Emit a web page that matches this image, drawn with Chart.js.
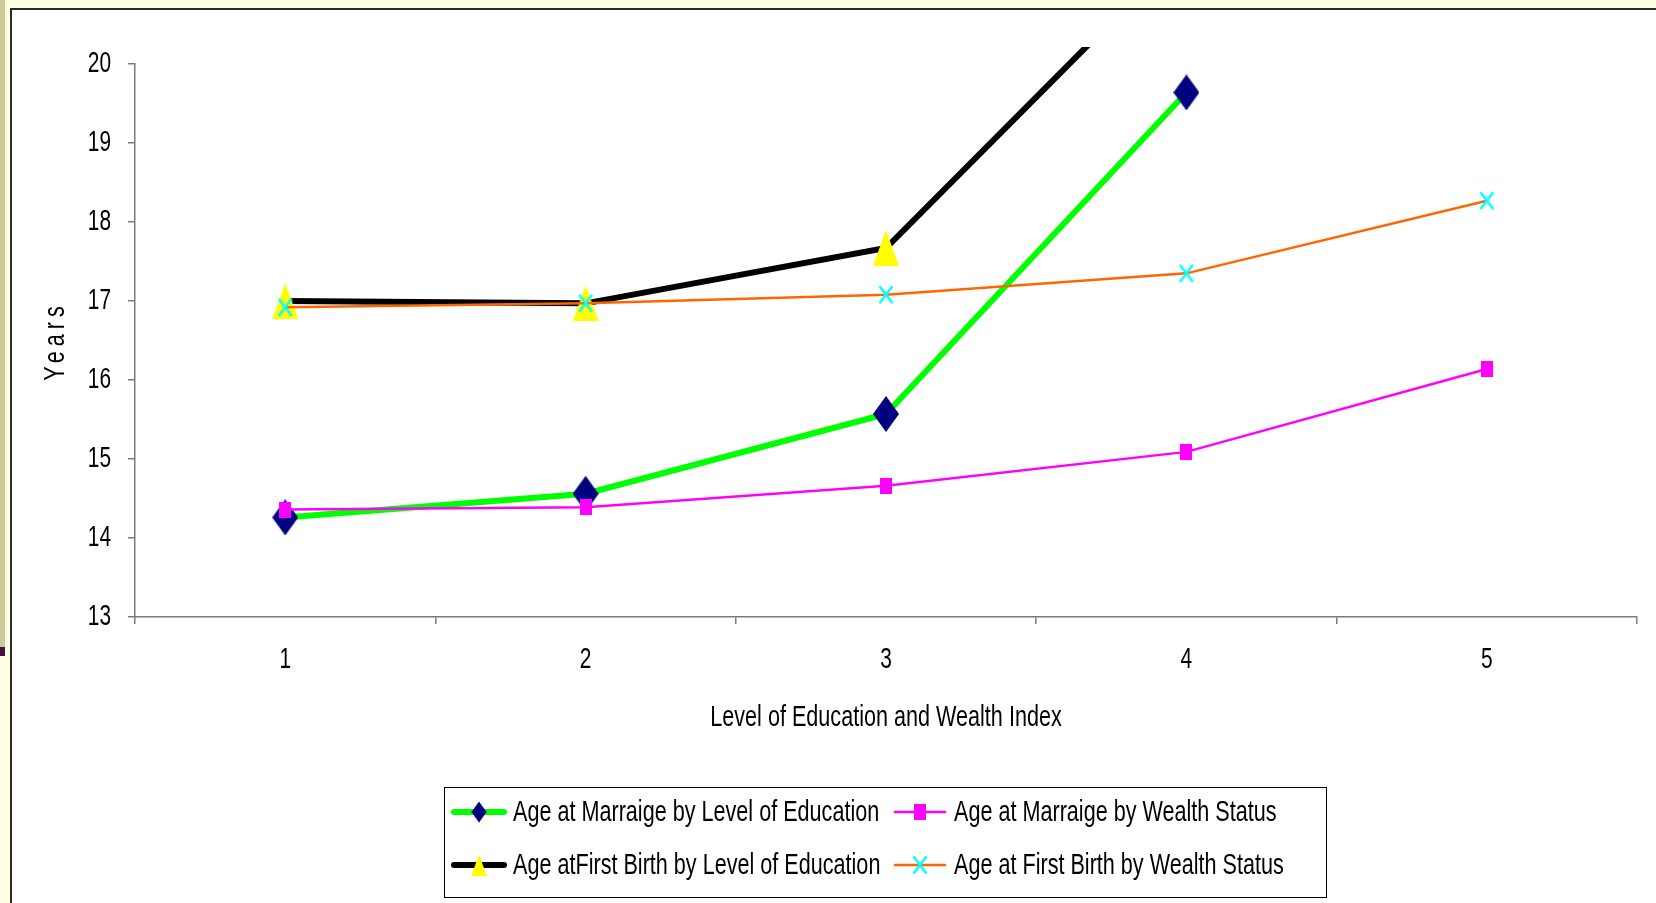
<!DOCTYPE html>
<html>
<head>
<meta charset="utf-8">
<title>Age at Marriage and First Birth</title>
<script src="https://cdn.jsdelivr.net/npm/chart.js@4.4.1/dist/chart.umd.min.js"></script>
<style>
  html, body { margin: 0; padding: 0; }
  body { width: 1656px; height: 903px; background: #FFFFE1; position: relative; overflow: hidden; }
  .strip { position: absolute; left: 0; top: 0; width: 5px; height: 647px; background: #CDCB9B; }
  .strip-dark { position: absolute; left: 0; top: 647px; width: 5px; height: 9px; background: #4A0D45; }
  .frame { position: absolute; left: 10px; top: 8px; width: 1700px; height: 1000px; background: #fff;
           border-left: 2px solid #2b2b2b; border-top: 2px solid #2b2b2b; }
  #chart { position: absolute; left: 0; top: 0; }
</style>
</head>
<body>
<div class="strip"></div>
<div class="strip-dark"></div>
<div class="frame"></div>
<canvas id="chart" width="1656" height="903"></canvas>
<script>
// data
const levels = ['1', '2', '3', '4', '5'];
const yRange = [13, 20];
const marriageByEducation = [14.26, 14.56, 15.57, 19.64, null];
const marriageByWealth = [14.36, 14.39, 14.66, 15.09, 16.14];
const firstBirthByEducation = [17.0, 16.97, 17.67, 21.49, null];
const firstBirthByWealth = [16.92, 16.97, 17.08, 17.35, 18.27];

const FONT = "'Liberation Sans', Arial, sans-serif";
const AXIS = '#7a7a7a';
const NARROW = 0.72; // the original text is a squeezed Arial Narrow

Chart.defaults.font.family = FONT;
Chart.defaults.color = '#000';

// squeeze all text drawn on this canvas horizontally
const canvas = document.getElementById('chart');
const ctx = canvas.getContext('2d');
const rawFill = ctx.fillText.bind(ctx);
const rawMeasure = ctx.measureText.bind(ctx);
ctx.fillText = (text, x, y) => {
  ctx.save();
  ctx.translate(x, y);
  ctx.scale(NARROW, 1);
  rawFill(text, 0, 0);
  ctx.restore();
};
ctx.measureText = text => {
  const m = rawMeasure(text);
  return {
    width: m.width * NARROW,
    actualBoundingBoxAscent: m.actualBoundingBoxAscent,
    actualBoundingBoxDescent: m.actualBoundingBoxDescent,
    actualBoundingBoxLeft: m.actualBoundingBoxLeft * NARROW,
    actualBoundingBoxRight: m.actualBoundingBoxRight * NARROW
  };
};

// excel-like marker shapes
function makeMarker(w, h, draw) {
  const c = document.createElement('canvas');
  c.width = w;
  c.height = h;
  draw(c.getContext('2d'), w, h);
  return c;
}
const diamond = makeMarker(26, 36, (g, w, h) => {
  g.fillStyle = '#000080';
  g.beginPath();
  g.moveTo(w / 2, 0); g.lineTo(w, h / 2); g.lineTo(w / 2, h); g.lineTo(0, h / 2);
  g.closePath();
  g.fill();
});
const triangle = makeMarker(26, 36, (g, w, h) => {
  g.fillStyle = '#FFFF00';
  g.beginPath();
  g.moveTo(w / 2, 0); g.lineTo(w, h); g.lineTo(0, h);
  g.closePath();
  g.fill();
});
const square = makeMarker(12, 16, (g, w, h) => {
  g.fillStyle = '#FF00FF';
  g.fillRect(0, 0, w, h);
});
const cross = makeMarker(16, 20, (g, w, h) => {
  g.strokeStyle = '#00FFFF';
  g.lineWidth = 2.5;
  g.beginPath();
  g.moveTo(1.5, 1.5); g.lineTo(w - 1.5, h - 1.5);
  g.moveTo(w - 1.5, 1.5); g.lineTo(1.5, h - 1.5);
  g.stroke();
});

// y title with spaced letters
const yTitlePlugin = {
  id: 'yTitle',
  afterDraw(chart) {
    const c = chart.ctx;
    c.save();
    c.translate(56, 343);
    c.rotate(-Math.PI / 2);
    c.font = '30px ' + FONT;
    c.letterSpacing = '7px';
    c.textAlign = 'center';
    c.textBaseline = 'middle';
    c.fillStyle = '#000';
    c.fillText(chart.options.scales.y.title.text, 2, 0);
    c.restore();
  }
};

// two column boxed legend
const boxLegend = {
  id: 'boxLegend',
  afterDraw(chart) {
    const c = chart.ctx;
    const cells = [[451, 812], [892, 812], [451, 865], [892, 865]];
    c.save();
    c.strokeStyle = '#000';
    c.lineWidth = 1;
    c.strokeRect(444.5, 787.5, 882, 110);
    c.font = '30px ' + FONT;
    c.textAlign = 'left';
    c.textBaseline = 'middle';
    chart.data.datasets.forEach((ds, i) => {
      const [x, y] = cells[i];
      c.strokeStyle = ds.borderColor;
      c.lineWidth = ds.borderWidth;
      c.lineCap = 'round';
      c.beginPath();
      c.moveTo(x + 3, y);
      c.lineTo(x + 53, y);
      c.stroke();
      const m = ds.pointStyle;
      const s = Math.min(1, 21 / m.height);
      c.drawImage(m, x + 28 - m.width * s / 2, y - m.height * s / 2, m.width * s, m.height * s);
      c.fillStyle = '#000';
      c.fillText(ds.label, x + 62, y + 1);
    });
    c.restore();
  }
};

new Chart(ctx, {
  type: 'line',
  data: {
    labels: levels,
    datasets: [
      { label: 'Age at Marraige by Level of Education', data: marriageByEducation,
        borderColor: '#00FF00', borderWidth: 6, pointStyle: diamond, pointRadius: 13, order: 4 },
      { label: 'Age at Marraige by Wealth Status', data: marriageByWealth,
        borderColor: '#FF00FF', borderWidth: 2.5, pointStyle: square, pointRadius: 7, order: 3 },
      { label: 'Age atFirst Birth by Level of Education', data: firstBirthByEducation,
        borderColor: '#000000', borderWidth: 6, pointStyle: triangle, pointRadius: 13, order: 2,
        clip: { left: 10, top: 17, right: 10, bottom: 10 } },
      { label: 'Age at First Birth by Wealth Status', data: firstBirthByWealth,
        borderColor: '#FF6600', borderWidth: 2.5, pointStyle: cross, pointRadius: 8, order: 1 }
    ]
  },
  options: {
    responsive: false,
    animation: false,
    events: [],
    layout: { padding: { top: 64, right: 14, bottom: 146, left: 0 } },
    elements: { line: { tension: 0 } },
    plugins: { legend: { display: false }, tooltip: { enabled: false } },
    scales: {
      x: {
        type: 'category',
        offset: true,
        grid: { offset: true, drawOnChartArea: false, tickLength: 7, color: AXIS, lineWidth: 1.5 },
        border: { color: AXIS, width: 1.5 },
        ticks: { font: { size: 29 }, padding: 19 },
        title: { display: true, text: 'Level of Education and Wealth Index', font: { size: 30 },
                 padding: { top: 0, bottom: 21 } },
        afterFit(s) { s.height = 140; }
      },
      y: {
        min: yRange[0],
        max: yRange[1],
        ticks: { stepSize: 1, font: { size: 29 }, padding: 17 },
        grid: { drawOnChartArea: false, tickLength: 7, color: AXIS, lineWidth: 1.5 },
        border: { color: AXIS, width: 1.5 },
        title: { display: false, text: 'Years' },
        afterFit(s) { s.width = 135; }
      }
    }
  },
  plugins: [yTitlePlugin, boxLegend]
});
</script>
</body>
</html>
